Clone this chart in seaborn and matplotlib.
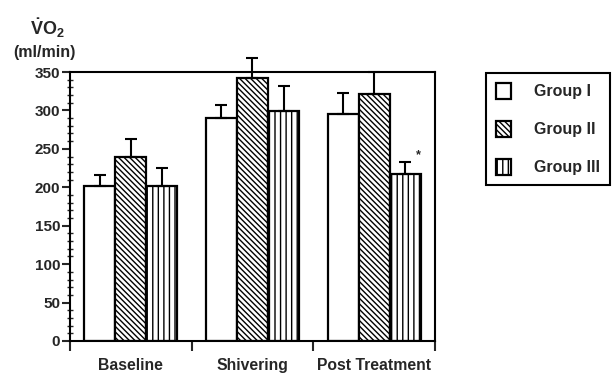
import numpy as np
import pandas as pd
import matplotlib
matplotlib.use("Agg")
import matplotlib.pyplot as plt
import seaborn as sns
from matplotlib.ticker import MultipleLocator, FixedLocator

sns.set_style("ticks")
plt.rcParams["font.family"] = ["Liberation Sans", "DejaVu Sans"]
plt.rcParams["font.weight"] = "bold"
plt.rcParams["mathtext.fontset"] = "custom"
plt.rcParams["mathtext.rm"] = "Liberation Sans:bold"
plt.rcParams["mathtext.it"] = "Liberation Sans:bold"
plt.rcParams["mathtext.bf"] = "Liberation Sans:bold"
plt.rcParams["hatch.linewidth"] = 1.0
plt.rcParams["hatch.color"] = "black"

# data (mean and upward SD)
conditions = ["Baseline", "Shivering", "Post Treatment"]
groups = ["Group I", "Group II", "Group III"]
group1_vals = [202, 290, 296]
group1_err = [14, 17, 27]
group2_vals = [240, 342, 322]
group2_err = [23, 26, 28]
group3_vals = [202, 299, 217]
group3_err = [23, 33, 16]

vals = [group1_vals, group2_vals, group3_vals]
errs = [group1_err, group2_err, group3_err]

rows = []
for g, v in zip(groups, vals):
    for c, y in zip(conditions, v):
        rows.append({"condition": c, "group": g, "value": y})
df = pd.DataFrame(rows)

fig = plt.figure(figsize=(6.13, 3.74), dpi=100)
ax = fig.add_axes([70 / 613, 1 - 341 / 374, 365 / 613, 269 / 374])

sns.barplot(data=df, x="condition", y="value", hue="group",
            order=conditions, hue_order=groups,
            palette={g: "white" for g in groups}, saturation=1,
            edgecolor="black", linewidth=1.6, width=0.765,
            errorbar=None, ax=ax)

bar_containers = list(ax.containers)
hatches = ["", "\\\\\\\\\\\\", "|||"]
for container, hatch, v, e in zip(bar_containers, hatches, vals, errs):
    for bar in container:
        bar.set_hatch(hatch)
    xs = [b.get_x() + b.get_width() / 2 for b in container]
    ax.errorbar(xs, v, yerr=[np.zeros(len(e)), e], fmt="none",
                ecolor="black", elinewidth=1.5, capsize=4.5, capthick=1.5,
                clip_on=False, zorder=3)

# significance mark
ax.text(2.36, 234, "*", fontsize=9, ha="center", va="bottom")

ax.set_xlim(-0.5, 2.5)
ax.set_ylim(0, 350)
ax.set_xlabel("")
ax.set_ylabel("")
ax.set_yticks(range(0, 351, 50))
ax.yaxis.set_minor_locator(MultipleLocator(10))
ax.xaxis.set_minor_locator(FixedLocator([-0.5, 0.5, 1.5, 2.5]))
ax.tick_params(axis="y", which="major", direction="out", length=6, width=1.5,
               pad=1, labelsize=11)
ax.tick_params(axis="y", which="minor", direction="inout", length=4, width=1)
ax.tick_params(axis="x", which="major", length=0, pad=12, labelsize=11.3)
ax.tick_params(axis="x", which="minor", direction="out", length=7, width=1.5)
for s in ax.spines.values():
    s.set_visible(True)
    s.set_linewidth(1.5)
    s.set_color("black")

ax.get_legend().remove()
handles = [c.patches[0] for c in bar_containers]
leg = fig.legend(handles, groups, loc="upper left",
                 bbox_to_anchor=(486 / 613, 1 - 73 / 374),
                 bbox_transform=fig.transFigure,
                 fontsize=11.5, fancybox=False, framealpha=1,
                 handlelength=0.95, handleheight=1.2, handletextpad=1.45,
                 labelspacing=1.35, borderpad=0.6, borderaxespad=0)
leg.get_frame().set_edgecolor("black")
leg.get_frame().set_linewidth(1.5)

fig.text(47 / 613, 1 - 28 / 374, r"$\dot{V}O_2$", ha="center",
         va="center", fontsize=13)
fig.text(44 / 613, 1 - 52 / 374, "(ml/min)", ha="center", va="center",
         fontsize=11.5)

fig.savefig("out.png", dpi=100)
